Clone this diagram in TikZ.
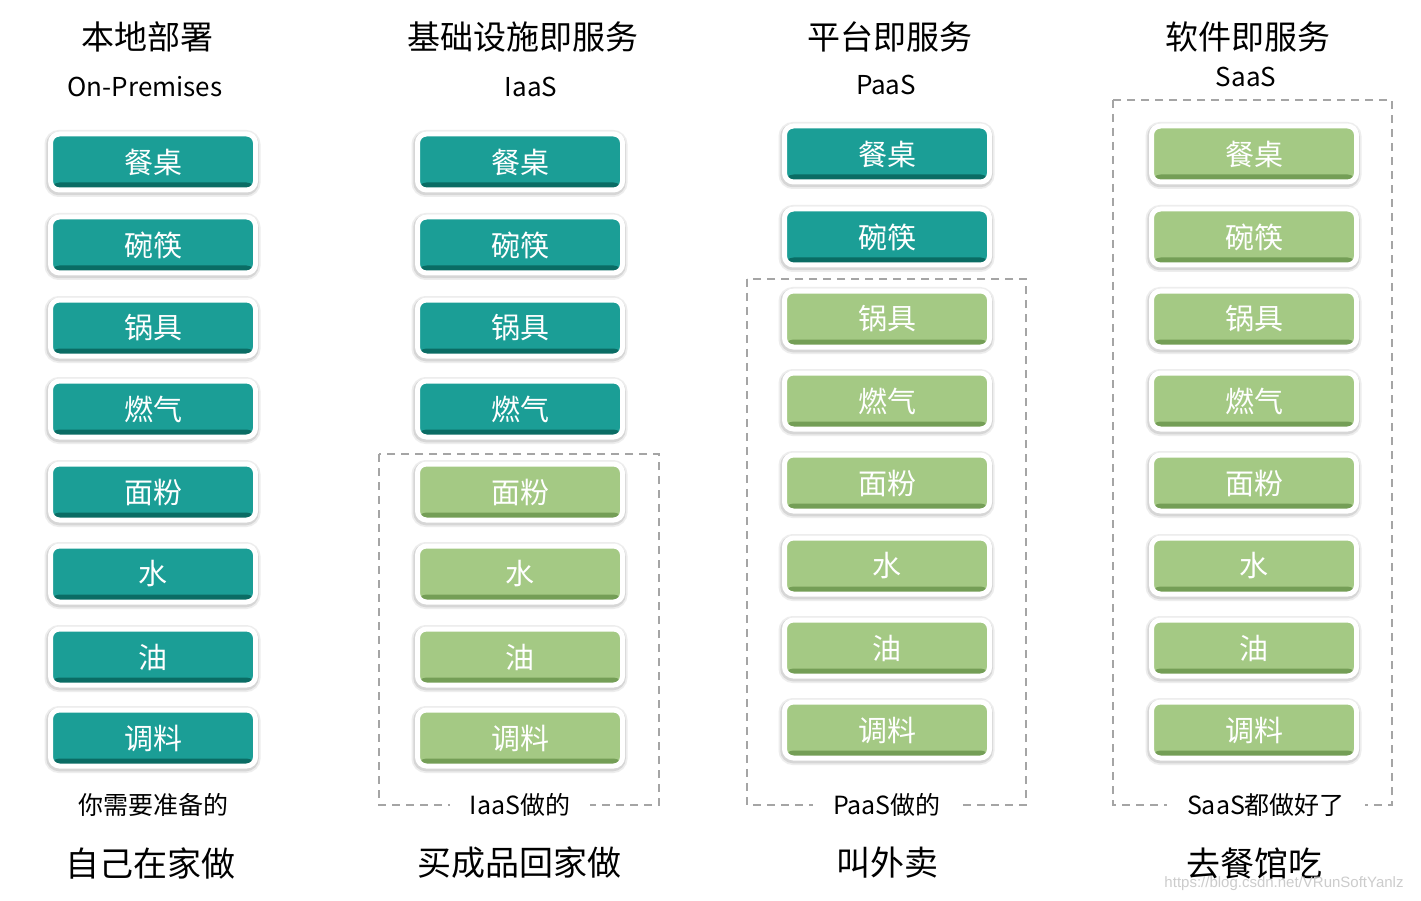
\documentclass[tikz,border=0pt]{standalone}
\usepackage{fontspec}
\setmainfont{Noto Sans CJK SC}
\newfontfamily\wmfont{Liberation Sans}

\definecolor{tealdish}{RGB}{27,158,150}
\definecolor{tealedge}{RGB}{10,108,100}
\definecolor{greendish}{RGB}{164,201,132}
\definecolor{greenedge}{RGB}{116,158,86}
\definecolor{boxgray}{RGB}{165,165,165}

\tikzset{
  dish/.style={rounded corners=9pt, minimum width=205pt, minimum height=56pt,
    draw=white, line width=5pt, text=white, font=\fontsize{29}{30}\selectfont,
    preaction={draw=black!7, line width=11pt, transform canvas={xshift=-0.5pt, yshift=-1.5pt}},
    preaction={draw=black!16, line width=7.5pt, transform canvas={xshift=-0.5pt, yshift=-1.5pt}}},
  yours/.style={dish, fill=tealdish,
    path picture={\fill[tealedge] ([yshift=7.5pt]path picture bounding box.south west) rectangle (path picture bounding box.south east);}},
  theirs/.style={dish, fill=greendish,
    path picture={\fill[greenedge] ([yshift=7.5pt]path picture bounding box.south west) rectangle (path picture bounding box.south east);}},
  heading/.style={font=\fontsize{33}{36}\selectfont},
  subheading/.style={font=\fontsize{26}{28}\selectfont},
  note/.style={font=\fontsize{25}{28}\selectfont, fill=white, inner xsep=20pt, inner ysep=2pt},
  verdict/.style={font=\fontsize{34}{38}\selectfont},
  servicebox/.style={draw=boxgray, line width=1.5pt, dash pattern=on 8pt off 6pt}
}

\begin{document}
\begin{tikzpicture}[x=1pt,y=-1pt]
  \useasboundingbox[fill=white] (0,0) rectangle (1421,901);

  % headings
  \node [heading] (t1) at (147,37) {本地部署};
  \node [subheading] (s1) at (145,87) {On-Premises};
  \node [heading] (t2) at (523,37) {基础设施即服务};
  \node [subheading] (s2) at (531,87) {IaaS};
  \node [heading] (t3) at (890,37) {平台即服务};
  \node [subheading] (s3) at (886,85) {PaaS};
  \node [heading] (t4) at (1248,37) {软件即服务};
  \node [subheading] (s4) at (1246,77) {SaaS};

  % who does what
  \draw [servicebox] (379,454) rectangle (659,805);
  \draw [servicebox] (747,279) rectangle (1026,805);
  \draw [servicebox] (1113,100) rectangle (1392,805);

  % on-premises
  \node [yours] (op1) at (153,162) {餐桌};
  \node [yours] (op2) at (153,245) {碗筷};
  \node [yours] (op3) at (153,328) {锅具};
  \node [yours] (op4) at (153,409) {燃气};
  \node [yours] (op5) at (153,492) {面粉};
  \node [yours] (op6) at (153,574) {水};
  \node [yours] (op7) at (153,657) {油};
  \node [yours] (op8) at (153,738) {调料};

  % iaas
  \node [yours] (ia1) at (520,162) {餐桌};
  \node [yours] (ia2) at (520,245) {碗筷};
  \node [yours] (ia3) at (520,328) {锅具};
  \node [yours] (ia4) at (520,409) {燃气};
  \node [theirs] (ia5) at (520,492) {面粉};
  \node [theirs] (ia6) at (520,574) {水};
  \node [theirs] (ia7) at (520,657) {油};
  \node [theirs] (ia8) at (520,738) {调料};

  % paas
  \node [yours] (pa1) at (887,154) {餐桌};
  \node [yours] (pa2) at (887,237) {碗筷};
  \node [theirs] (pa3) at (887,319) {锅具};
  \node [theirs] (pa4) at (887,401) {燃气};
  \node [theirs] (pa5) at (887,483) {面粉};
  \node [theirs] (pa6) at (887,566) {水};
  \node [theirs] (pa7) at (887,648) {油};
  \node [theirs] (pa8) at (887,730) {调料};

  % saas
  \node [theirs] (sa1) at (1254,154) {餐桌};
  \node [theirs] (sa2) at (1254,237) {碗筷};
  \node [theirs] (sa3) at (1254,319) {锅具};
  \node [theirs] (sa4) at (1254,401) {燃气};
  \node [theirs] (sa5) at (1254,483) {面粉};
  \node [theirs] (sa6) at (1254,566) {水};
  \node [theirs] (sa7) at (1254,648) {油};
  \node [theirs] (sa8) at (1254,730) {调料};

  % notes under the columns
  \node [note] (n1) at (153,805) {你需要准备的};
  \node [note] (n2) at (520,805) {IaaS做的};
  \node [note] (n3) at (887,805) {PaaS做的};
  \node [note] (n4) at (1266,805) {SaaS都做好了};

  \node [verdict] (v1) at (150,863) {自己在家做};
  \node [verdict] (v2) at (519,863) {买成品回家做};
  \node [verdict] (v3) at (887,863) {叫外卖};
  \node [verdict] (v4) at (1254,863) {去餐馆吃};

  \node [font=\wmfont\fontsize{15}{16}\selectfont, text=black!20] (wm) at (1284,884) {https://blog.csdn.net/VRunSoftYanlz};
\end{tikzpicture}
\end{document}
